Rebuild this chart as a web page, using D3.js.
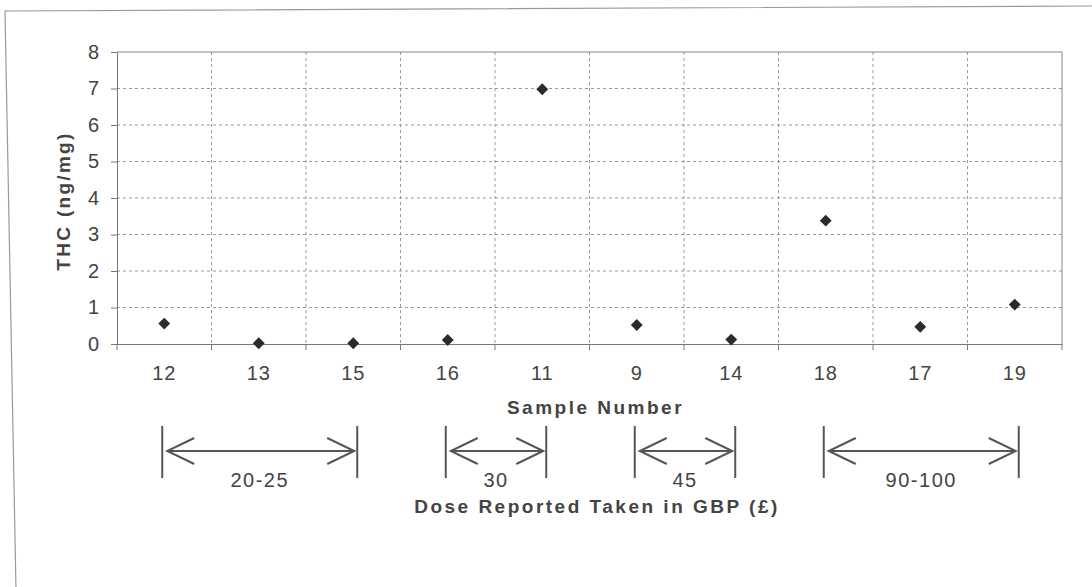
<!DOCTYPE html>
<html>
<head>
<meta charset="utf-8">
<script src="https://cdn.jsdelivr.net/npm/d3@7"></script>
<style>
  body { margin: 0; background: #fff; }
  text { font-family: Arial, "Liberation Sans", sans-serif; fill: #444; }
</style>
</head>
<body>
<svg id="chart" width="1092" height="587"></svg>
<script>
// sample numbers in the order plotted
var samples = ["12", "13", "15", "16", "11", "9", "14", "18", "17", "19"];
// THC in ng/mg
var thc = [0.56, 0.02, 0.02, 0.11, 6.98, 0.52, 0.12, 3.38, 0.47, 1.08];
var yTicks = [0, 1, 2, 3, 4, 5, 6, 7, 8];

// dose brackets under the axis
var doseLabels = ["20-25", "30", "45", "90-100"];
var doseFrom = ["12", "16", "9", "18"];
var doseTo = ["15", "11", "14", "19"];

var svg = d3.select("#chart");

var margin = { left: 117, right: 1062, top: 52, bottom: 344 };

var x = d3.scaleBand().domain(samples).range([margin.left, margin.right]).padding(0);
var y = d3.scaleLinear().domain([0, 8]).range([margin.bottom, margin.top]);

// outer frame (slightly skewed like the scan)
svg.append("path")
    .attr("d", "M16,590 L5,11 L1089,6 L1092,6")
    .attr("fill", "none")
    .attr("stroke", "#999")
    .attr("stroke-width", 1.2);

// horizontal grid
svg.append("g").selectAll("line").data(yTicks.slice(1, -1))
    .enter().append("line")
    .attr("x1", margin.left).attr("x2", margin.right)
    .attr("y1", function (d) { return y(d); })
    .attr("y2", function (d) { return y(d); })
    .attr("stroke", "#999")
    .attr("stroke-dasharray", "3,3");

// vertical grid at category boundaries
svg.append("g").selectAll("line").data(samples.slice(1))
    .enter().append("line")
    .attr("x1", function (d) { return x(d); })
    .attr("x2", function (d) { return x(d); })
    .attr("y1", margin.top).attr("y2", margin.bottom)
    .attr("stroke", "#999")
    .attr("stroke-dasharray", "3,3");

// plot border top/right
svg.append("path")
    .attr("d", "M" + margin.left + "," + margin.top + " L" + margin.right + "," + margin.top + " L" + margin.right + "," + margin.bottom)
    .attr("fill", "none")
    .attr("stroke", "#888");

// y axis
var yAxis = d3.axisLeft(y).tickValues(yTicks).tickSize(6).tickPadding(12);
var gy = svg.append("g").attr("transform", "translate(" + margin.left + ",0)").call(yAxis);
gy.select(".domain").attr("stroke", "#777");
gy.selectAll(".tick line").attr("stroke", "#777");
gy.selectAll(".tick text")
    .attr("font-size", 20)
    .style("font-family", "Arial, 'Liberation Sans', sans-serif")
    .attr("fill", "#444");

// x axis
var xAxis = d3.axisBottom(x).tickSize(0).tickPadding(22);
var gx = svg.append("g").attr("transform", "translate(0," + margin.bottom + ")").call(xAxis);
gx.select(".domain").attr("stroke", "#777");
gx.selectAll(".tick text")
    .attr("font-size", 20)
    .attr("letter-spacing", 1)
    .style("font-family", "Arial, 'Liberation Sans', sans-serif")
    .attr("fill", "#444");

// x tick marks at category boundaries
svg.append("g").selectAll("line").data(samples.concat(["end"]))
    .enter().append("line")
    .attr("x1", function (d) { return d == "end" ? margin.right : x(d); })
    .attr("x2", function (d) { return d == "end" ? margin.right : x(d); })
    .attr("y1", margin.bottom).attr("y2", margin.bottom + 6)
    .attr("stroke", "#777");

// points
var diamond = d3.symbol().type(d3.symbolSquare).size(70);
svg.append("g").selectAll("path").data(samples)
    .enter().append("path")
    .attr("d", diamond)
    .attr("transform", function (d, i) {
        return "translate(" + (x(d) + x.bandwidth() / 2) + "," + y(thc[i]) + ") rotate(45)";
    })
    .attr("fill", "#2b2b2b");

// axis titles
svg.append("text")
    .attr("x", (margin.left + margin.right) / 2 + 6)
    .attr("y", 414)
    .attr("text-anchor", "middle")
    .attr("font-size", 19)
    .attr("font-weight", "bold")
    .attr("letter-spacing", 2.5)
    .text("Sample Number");

svg.append("text")
    .attr("transform", "translate(70,201) rotate(-90)")
    .attr("text-anchor", "middle")
    .attr("font-size", 19)
    .attr("font-weight", "bold")
    .attr("letter-spacing", 2.3)
    .text("THC (ng/mg)");

// dose brackets
var brTop = 426, brBottom = 478, brMid = 451;
var br = svg.append("g").attr("stroke", "#555").attr("stroke-width", 2).attr("fill", "none");
doseLabels.forEach(function (lab, i) {
    var x0 = x(doseFrom[i]) + x.bandwidth() / 2 - 2;
    var x1 = x(doseTo[i]) + x.bandwidth() / 2 + 4;
    br.append("line").attr("x1", x0).attr("x2", x0).attr("y1", brTop).attr("y2", brBottom);
    br.append("line").attr("x1", x1).attr("x2", x1).attr("y1", brTop).attr("y2", brBottom);
    br.append("line").attr("x1", x0 + 5).attr("x2", x1 - 3).attr("y1", brMid).attr("y2", brMid);
    br.append("path").attr("d", "M" + (x0 + 32) + "," + (brMid - 13) + " L" + (x0 + 5) + "," + brMid + " L" + (x0 + 32) + "," + (brMid + 13));
    br.append("path").attr("d", "M" + (x1 - 30) + "," + (brMid - 13) + " L" + (x1 - 3) + "," + brMid + " L" + (x1 - 30) + "," + (brMid + 13));
    svg.append("text")
        .attr("x", (x0 + x1) / 2)
        .attr("y", 487)
        .attr("text-anchor", "middle")
        .attr("font-size", 20)
        .attr("letter-spacing", 1.5)
        .text(lab);
});

svg.append("text")
    .attr("x", 597)
    .attr("y", 513)
    .attr("text-anchor", "middle")
    .attr("font-size", 19)
    .attr("font-weight", "bold")
    .attr("letter-spacing", 2.5)
    .text("Dose Reported Taken in GBP (£)");
</script>
</body>
</html>
